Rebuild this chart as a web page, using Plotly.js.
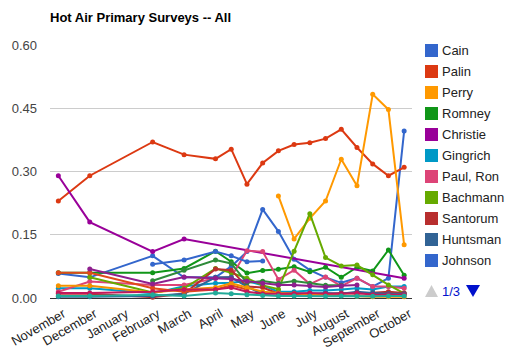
<!DOCTYPE html>
<html>
<head>
<meta charset="utf-8">
<script src="https://cdn.plot.ly/plotly-3.0.1.min.js"></script>
<style>html,body{margin:0;padding:0;background:#fff;}#chart{width:509px;height:352px;}</style>
</head>
<body>
<div id="chart"></div>
<script>
// Survey rounds (position on the month axis; two slots per month)
const rounds = [0, 2, 6, 8, 10, 11, 12, 13, 14, 15, 16, 17, 18, 19, 20, 21, 22];
const months = ['November', 'December', 'January', 'February', 'March', 'April',
                'May', 'June', 'July', 'August', 'September', 'October'];
const yTicks = [0, 0.15, 0.30, 0.45, 0.60];

// Legend (page 1/3) series
const cain     = [0.058,0.049,0.10,0.049,0.049,0.075,0.11,0.21,0.158,0.092,0.066,0.049,0.036,0.047,0.027,0.047,0.396];
const palin    = [0.23,0.29,0.37,0.34,0.33,0.353,0.27,0.32,0.349,0.364,0.368,0.378,0.40,0.357,0.318,0.29,0.31];
const perry    = [null,null,null,null,null,null,null,null,0.242,0.14,0.189,0.23,0.329,0.266,0.483,0.447,0.126];
const romney   = [0.06,0.06,0.06,0.07,0.111,0.086,0.059,0.065,0.068,0.074,0.062,0.073,0.049,0.073,0.064,0.114,0.054];
const christie = [0.29,0.18,0.11,0.14,null,null,null,null,null,null,null,null,null,null,null,null,0.047];
const gingrich = [0.023,0.023,0.011,0.028,0.035,0.036,0.04,0.03,0.015,0.015,0.018,0.018,0.02,0.023,0.02,0.027,0.027];
const paulRon  = [0.015,0.039,0.031,0.031,0.047,0.05,0.112,0.11,0.044,0.066,0.033,0.05,0.028,0.047,0.027,0.027,0.023];
const bachmann = [null,0.049,0.013,0.023,0.07,0.06,0.047,0.03,0.021,0.111,0.20,0.096,0.076,0.078,0.055,0.031,0.011];
const santorum = [0.01,0.01,0.002,0.01,0.069,0.066,0.027,0.025,0.01,0.01,0.008,0.01,0.012,0.01,0.012,0.015,0.012];
const huntsman = [0.003,0.003,0.005,0.01,0.049,0.049,0.027,0.009,0.012,0.012,0.01,0.012,0.01,0.015,0.012,0.01,0.01];
const johnson  = [null,null,0.08,0.09,0.11,0.10,0.086,0.088,null,null,null,null,null,null,null,null,null];

// Further series (legend pages 2-3, not shown in legend)
const huckabee = [0.06,0.06,0.023,0.015,0.02,0.03,0.02,null,null,null,null,null,null,null,null,null,null];
const pawlenty = [0.029,0.029,0.013,0.02,0.025,0.035,0.025,0.015,0.012,0.01,0.008,0.007,0.006,0.004,0.003,0.003,0.003];
const daniels  = [null,null,0.041,0.066,0.09,0.082,0.036,0.04,0.035,0.04,0.035,0.03,0.03,null,null,null,null];
const trump    = [null,0.069,0.033,0.05,0.047,0.045,0.04,0.035,0.031,0.031,0.029,0.026,0.029,0.031,null,null,null];
const barbour  = [0.012,0.012,0.015,0.02,0.02,0.025,0.015,0.01,0.01,0.01,0.012,0.01,0.01,0.012,0.008,0.008,0.008];
const pence    = [0.005,0.005,0.008,0.005,0.012,0.01,0.008,0.006,0.005,0.005,0.004,0.004,0.005,0.004,0.004,0.005,0.005];

const legendSeries = [
  ['Cain', cain, '#3366cc'],
  ['Palin', palin, '#dc3912'],
  ['Perry', perry, '#ff9900'],
  ['Romney', romney, '#109618'],
  ['Christie', christie, '#990099'],
  ['Gingrich', gingrich, '#0099c6'],
  ['Paul, Ron', paulRon, '#dd4477'],
  ['Bachmann', bachmann, '#66aa00'],
  ['Santorum', santorum, '#b82e2e'],
  ['Huntsman', huntsman, '#316395'],
  ['Johnson', johnson, '#3366cc']
];
const extraSeries = [
  ['Huckabee', huckabee, '#e04a1a'],
  ['Pawlenty', pawlenty, '#f39200'],
  ['Daniels', daniels, '#2e8b3a'],
  ['Trump', trump, '#8e1f8e'],
  ['Barbour', barbour, '#c2185b'],
  ['Pence', pence, '#22aa99']
];

const mk = ([name, vals, color]) => ({
  type: 'scatter', mode: 'lines+markers', name: name,
  x: rounds, y: vals, connectgaps: true, cliponaxis: false,
  line: {color: color, width: 2}, marker: {color: color, size: 5},
  showlegend: false, hoverinfo: 'name+y'
});
const traces = legendSeries.map(mk).concat(extraSeries.map(mk));

// Custom legend (square swatches), pixel-placed outside the plot
const plotTop = 45, plotBottom = 298, plotH = plotBottom - plotTop;
const py2paper = py => (plotBottom - py) / plotH;
const shapes = [], annotations = [];
legendSeries.forEach(([name, vals, color], k) => {
  const yc = py2paper(50.5 + 21 * k);
  shapes.push({type: 'rect', xref: 'paper', yref: 'paper', xsizemode: 'pixel', ysizemode: 'pixel',
    xanchor: 1, yanchor: yc, x0: 13, x1: 26, y0: -6.5, y1: 6.5,
    fillcolor: color, line: {width: 0}});
  annotations.push({xref: 'paper', yref: 'paper', x: 1, y: yc, xshift: 28, xanchor: 'left', yanchor: 'middle',
    text: name, showarrow: false, font: {family: 'Liberation Sans, Arial, sans-serif', size: 13, color: '#222222'}});
});
const pagerY = py2paper(291);
shapes.push({type: 'path', xref: 'paper', yref: 'paper', xsizemode: 'pixel', ysizemode: 'pixel',
  xanchor: 1, yanchor: pagerY, path: 'M13,-6 L26,-6 L19.5,6 Z', fillcolor: '#cccccc', line: {width: 0}});
shapes.push({type: 'path', xref: 'paper', yref: 'paper', xsizemode: 'pixel', ysizemode: 'pixel',
  xanchor: 1, yanchor: pagerY, path: 'M54,6 L68,6 L61,-6 Z', fillcolor: '#0011cc', line: {width: 0}});
annotations.push({xref: 'paper', yref: 'paper', x: 1, y: pagerY, xshift: 28, xanchor: 'left', yanchor: 'middle',
  text: '1/3', showarrow: false, font: {family: 'Liberation Sans, Arial, sans-serif', size: 13, color: '#0011cc'}});

const layout = {
  width: 509, height: 352,
  margin: {l: 50, r: 97, t: plotTop, b: 352 - plotBottom, pad: 0},
  paper_bgcolor: '#ffffff', plot_bgcolor: '#ffffff',
  font: {family: 'Liberation Sans, Arial, sans-serif', size: 13, color: '#222222'},
  title: {text: 'Hot Air Primary Surveys -- All', x: 50 / 509, xanchor: 'left', xref: 'container',
          y: 1 - 17 / 352, yanchor: 'middle', yref: 'container',
          font: {family: 'Liberation Sans, Arial, sans-serif', size: 13, color: '#000000', weight: 'bold'}},
  showlegend: false,
  hovermode: 'closest',
  xaxis: {
    range: [-0.53, 22.5], tickmode: 'array',
    tickvals: months.map((m, i) => i * 2), ticktext: months,
    tickangle: -30, showgrid: false, zeroline: false, showline: false, ticks: '',
    ticklabelstandoff: 5, ticklabelshift: 5,
    tickfont: {size: 13, color: '#222222'}, fixedrange: true
  },
  yaxis: {
    range: [0, 0.6], tickmode: 'array', tickvals: yTicks, tickformat: '.2f',
    showgrid: true, gridcolor: '#cccccc', gridwidth: 1,
    zeroline: true, zerolinecolor: '#333333', zerolinewidth: 1,
    showline: false, ticks: '', ticklabelstandoff: 12,
    tickfont: {size: 13, color: '#444444'}, fixedrange: true
  },
  shapes: shapes,
  annotations: annotations
};

Plotly.newPlot('chart', traces, layout, {displayModeBar: false, responsive: false});
</script>
</body>
</html>
